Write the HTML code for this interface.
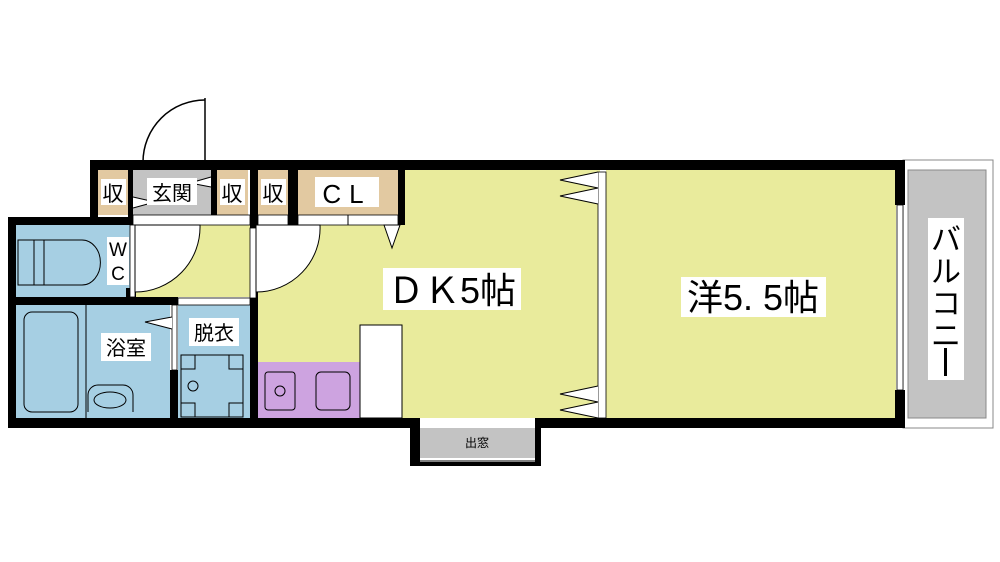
<!DOCTYPE html>
<html><head><meta charset="utf-8"><style>
html,body{margin:0;padding:0;background:#fff;}
svg{display:block;}
text{font-family:"Liberation Sans","Noto Sans CJK JP",sans-serif;fill:#000;}
</style></head><body>
<svg width="1000" height="562" viewBox="0 0 1000 562" xmlns="http://www.w3.org/2000/svg">
<rect width="1000" height="562" fill="#fff"/>
<line x1="205" y1="98" x2="205" y2="162" stroke="#000" stroke-width="1.5"/>
<path d="M143 162 A62 62 0 0 1 205 100" fill="none" stroke="#000" stroke-width="1.5"/>
<rect x="903" y="160" width="90" height="268" fill="#fff" stroke="#888" stroke-width="1"/>
<rect x="908" y="170" width="78" height="248" fill="#c3c3c3" stroke="#888" stroke-width="1"/>
<rect x="258" y="170" width="342" height="248" fill="#e9eb9c"/>
<rect x="606" y="170" width="290" height="248" fill="#e9eb9c"/>
<rect x="135" y="225" width="115" height="72" fill="#e9eb9c"/>
<rect x="16" y="225" width="116" height="72" fill="#a6cfe3"/>
<rect x="16" y="305" width="154" height="113" fill="#a6cfe3"/>
<rect x="178" y="305" width="72" height="113" fill="#a6cfe3"/>
<rect x="98" y="170" width="30" height="45" fill="#e2c9a1"/>
<rect x="133" y="170" width="78" height="45" fill="#c3c3c3"/>
<rect x="217" y="170" width="31" height="45" fill="#e2c9a1"/>
<rect x="258" y="170" width="30" height="45" fill="#e2c9a1"/>
<rect x="298" y="170" width="100" height="45" fill="#e2c9a1"/>
<rect x="258" y="362" width="102" height="56" fill="#cda3e0"/>
<rect x="360" y="325" width="42" height="93" fill="#fff" stroke="#000" stroke-width="1"/>
<rect x="265" y="372" width="30" height="38" rx="3" fill="none" stroke="#000" stroke-width="1"/>
<circle cx="280" cy="391" r="5" fill="none" stroke="#000"/>
<rect x="316" y="372" width="34" height="38" rx="5" fill="none" stroke="#000" stroke-width="1"/>
<rect x="18" y="240" width="16" height="45" fill="none" stroke="#000"/>
<rect x="34" y="240" width="10" height="45" fill="none" stroke="#000"/>
<path d="M44 240 H82 A18 22 0 0 1 82 285 H44 Z" fill="none" stroke="#000"/>
<rect x="24" y="312" width="54" height="100" rx="8" fill="none" stroke="#000"/>
<line x1="86" y1="305" x2="86" y2="418" stroke="#000"/>
<path d="M88 412 V395 A10 10 0 0 1 98 385 H123 A10 10 0 0 1 133 395 V412" fill="none" stroke="#000"/>
<ellipse cx="110" cy="400" rx="16" ry="8" fill="none" stroke="#000"/>
<rect x="181" y="355" width="62" height="62" fill="none" stroke="#000"/>
<rect x="181" y="355" width="14" height="14" fill="none" stroke="#000"/>
<rect x="229" y="355" width="14" height="14" fill="none" stroke="#000"/>
<rect x="181" y="403" width="14" height="14" fill="none" stroke="#000"/>
<rect x="229" y="403" width="14" height="14" fill="none" stroke="#000"/>
<circle cx="193" cy="386" r="5" fill="none" stroke="#000"/>
<g fill="#000">
<rect x="90" y="160" width="815" height="10"/>
<rect x="90" y="160" width="8" height="65"/>
<rect x="8" y="217" width="127" height="8"/>
<rect x="8" y="217" width="8" height="211"/>
<rect x="8" y="418" width="402" height="10"/>
<rect x="540" y="418" width="365" height="10"/>
<rect x="8" y="297" width="170" height="8"/>
<rect x="170" y="370" width="8" height="50"/>
<rect x="250" y="160" width="8" height="268"/>
<rect x="288" y="170" width="10" height="55"/>
<rect x="398" y="160" width="7" height="65"/>
<rect x="128" y="170" width="5" height="55"/>
<rect x="211" y="170" width="6" height="55"/>
<rect x="895" y="160" width="10" height="45"/>
<rect x="895" y="390" width="10" height="38"/>
<rect x="126" y="288" width="10" height="10"/>
<rect x="410" y="418" width="10" height="48"/>
<rect x="535" y="418" width="6" height="48"/>
<rect x="410" y="460" width="131" height="6"/>
</g>
<rect x="420" y="428" width="115" height="30" fill="#c3c3c3"/>
<line x1="420" y1="461" x2="535" y2="461" stroke="#fff" stroke-width="1"/>
<rect x="133" y="215" width="117" height="10" fill="#fff" stroke="#000" stroke-width="0.8"/>
<rect x="258" y="215" width="30" height="10" fill="#fff" stroke="#000" stroke-width="0.8"/>
<rect x="298" y="215" width="100" height="10" fill="#fff" stroke="#000" stroke-width="0.8"/>
<line x1="348" y1="215" x2="348" y2="225" stroke="#000"/>
<rect x="178" y="298" width="72" height="7" fill="#fff" stroke="#000" stroke-width="0.8"/>
<rect x="172" y="305" width="5" height="65" fill="#fff" stroke="#000" stroke-width="0.8"/>
<rect x="130" y="225" width="5" height="72" fill="#fff" stroke="#000" stroke-width="0.8"/>
<rect x="250" y="228" width="6" height="70" fill="#fff" stroke="#000" stroke-width="0.8"/>
<rect x="598" y="172" width="8" height="246" fill="#fff" stroke="#000" stroke-width="0.8"/>
<rect x="897" y="205" width="6" height="185" fill="#fff" stroke="#000" stroke-width="0.8"/>
<path d="M135 225 H200 A65 65 0 0 1 135 292 Z" fill="#fff" stroke="#000"/>
<path d="M256 225 H320 A64 64 0 0 1 256 292 Z" fill="#fff" stroke="#000"/>
<g fill="#fff" stroke="#000" stroke-width="1">
<path d="M598 172 L560 180 L598 188 L560 196 L598 204"/>
<path d="M598 386 L560 394 L598 402 L560 410 L598 418"/>
<path d="M384 225 L392 248 L400 225 Z"/>
<path d="M172 317 L145 322 L172 329"/>
<path d="M211 177 L190 183 L211 187"/>
<path d="M133 208 L155 202 L133 197" />
</g>
<g>
<rect x="101" y="179" width="25" height="26" fill="#fff"/><text x="113" y="201" font-size="21" text-anchor="middle">収</text>
<rect x="147" y="178" width="50" height="27" fill="#fff"/><text x="172" y="200" font-size="20" text-anchor="middle">玄関</text>
<rect x="220" y="179" width="25" height="26" fill="#fff"/><text x="232" y="201" font-size="21" text-anchor="middle">収</text>
<rect x="261" y="179" width="25" height="26" fill="#fff"/><text x="273" y="201" font-size="21" text-anchor="middle">収</text>
<rect x="315" y="177" width="64" height="30" fill="#fff"/><text x="347" y="203" font-size="26" text-anchor="middle" letter-spacing="8">CL</text>
<rect x="107" y="237" width="22" height="48" fill="#fff"/>
<text x="118" y="256" font-size="19" text-anchor="middle">W</text>
<text x="118" y="280" font-size="19" text-anchor="middle">C</text>
<rect x="101" y="333" width="50" height="28" fill="#fff"/><text x="126" y="355" font-size="20" text-anchor="middle">浴室</text>
<rect x="189" y="318" width="50" height="28" fill="#fff"/><text x="214" y="340" font-size="20" text-anchor="middle">脱衣</text>
<rect x="383" y="268" width="138" height="42" fill="#fff"/><text x="452" y="303" font-size="36" text-anchor="middle">ＤＫ5帖</text>
<rect x="681" y="277" width="145" height="40" fill="#fff"/><text x="753" y="310" font-size="36" text-anchor="middle">洋5. 5帖</text>
<rect x="928" y="218" width="36" height="162" fill="#fff"/>
<text x="946" y="250" font-size="30" text-anchor="middle">バ</text>
<text x="946" y="282" font-size="30" text-anchor="middle">ル</text>
<text x="946" y="314" font-size="30" text-anchor="middle">コ</text>
<text x="946" y="346" font-size="30" text-anchor="middle">ニ</text>
<rect x="944" y="348" width="3" height="28" fill="#000"/>
<text x="477" y="447" font-size="12" text-anchor="middle">出窓</text>
</g>
</svg>
</body></html>
